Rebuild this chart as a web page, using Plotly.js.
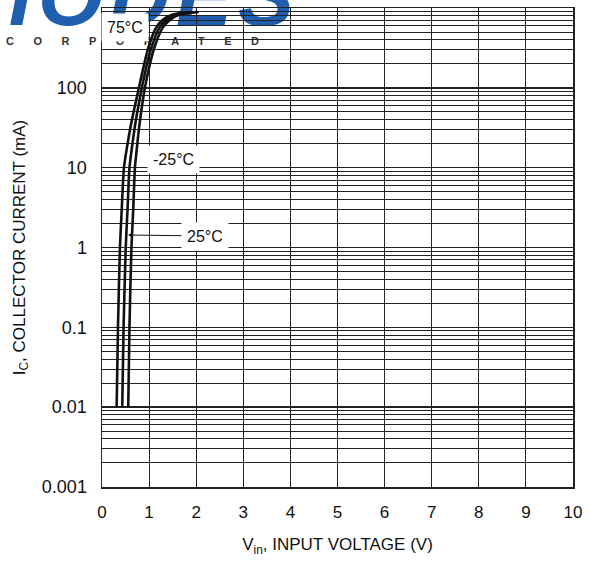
<!DOCTYPE html>
<html>
<head>
<meta charset="utf-8">
<script src="https://cdn.plot.ly/plotly-3.0.1.min.js"></script>
<style>
  html, body { margin:0; padding:0; background:#fff; }
  #wrap { position:relative; width:590px; height:564px; overflow:hidden; }
  #logo { position:absolute; left:-58px; top:-52px; font-family:"Liberation Sans", Arial, sans-serif;
          font-weight:bold; font-style:italic; font-size:84px; color:#1f5fae; letter-spacing:6px; z-index:0; white-space:nowrap; }
  #inc { position:absolute; left:-44px; top:35px; font-family:"Liberation Sans", Arial, sans-serif;
         font-weight:bold; font-size:11px; color:#333; letter-spacing:19.5px; z-index:0; white-space:nowrap; }
  #chart { position:absolute; left:0; top:0; width:590px; height:564px; z-index:1; }
</style>
</head>
<body>
<div id="wrap">
  <div id="logo">DIODES</div>
  <div id="inc">INCORPORATED</div>
  <div id="chart"></div>
</div>
<script>
// Collector current (mA) sample levels shared by the three curves
const currentLevels = [0.01, 0.1, 1, 3, 10, 18, 32, 56, 100, 180, 320, 560, 710, 830, 890];
// Input voltage (V) for each temperature
const vin75  = [0.311, 0.339, 0.381, 0.419, 0.466, 0.530, 0.604, 0.689, 0.784, 0.879, 0.985, 1.144, 1.292, 1.504, 1.907];
const vin25  = [0.430, 0.458, 0.504, 0.542, 0.583, 0.636, 0.695, 0.765, 0.847, 0.938, 1.049, 1.214, 1.373, 1.589, 1.992];
const vinM25 = [0.557, 0.583, 0.625, 0.663, 0.699, 0.742, 0.788, 0.843, 0.911, 1.000, 1.112, 1.282, 1.441, 1.653, 2.055];

const xTicks = [0,1,2,3,4,5,6,7,8,9,10];
const yTickVals = [0.001, 0.01, 0.1, 1, 10, 100, 1000];
const yTickText = ['0.001', '0.01', '0.1', '1', '10', '100', '1,000'];

const minorY = [];
for (let d = -3; d < 3; d++) for (let m = 2; m <= 9; m++) minorY.push(m * Math.pow(10, d));

const lineStyle = {color:'#111', width:2.6, shape:'spline', smoothing:0.6};
const traces = [
  {x: vin75,  y: currentLevels, name:'75°C',  mode:'lines', line: lineStyle},
  {x: vin25,  y: currentLevels, name:'25°C',  mode:'lines', line: lineStyle},
  {x: vinM25, y: currentLevels, name:'-25°C', mode:'lines', line: lineStyle}
];

const font = {family:'"Liberation Sans", Arial, sans-serif', size:17, color:'#111'};
const annFont = {family:'"Liberation Sans", Arial, sans-serif', size:16, color:'#111'};
const layout = {
  width:590, height:564,
  margin:{l:102, r:17, t:8, b:77},
  paper_bgcolor:'rgba(0,0,0,0)', plot_bgcolor:'rgba(0,0,0,0)',
  showlegend:false,
  font: font,
  xaxis:{
    range:[0,10], tickvals:xTicks, ticks:'outside', ticklen:9, tickcolor:'rgba(0,0,0,0)',
    showgrid:true, gridcolor:'#222', gridwidth:1, zeroline:false,
    showline:true, linecolor:'#222', linewidth:1.5, mirror:true,
    tickfont:{size:17, color:'#111'},
    title:{text:'V<sub>in</sub>, INPUT VOLTAGE (V)', font:{size:17, color:'#111'}, standoff:17}
  },
  yaxis:{
    type:'log', range:[-3,3], tickvals:yTickVals, ticktext:yTickText,
    ticks:'outside', ticklen:10, tickcolor:'rgba(0,0,0,0)',
    showgrid:true, gridcolor:'#222', gridwidth:1.5, zeroline:false,
    showline:true, linecolor:'#222', linewidth:1.5, mirror:true,
    tickfont:{size:18, color:'#111'},
    minor:{tickmode:'array', tickvals:minorY, showgrid:true, gridcolor:'#222', gridwidth:1, ticks:''},
    title:{text:'I<sub>C</sub>, COLLECTOR CURRENT (mA)', font:{size:17, color:'#111'}, standoff:12}
  },
  annotations:[
    {xref:'paper', yref:'paper', x:(125-102)/471, y:(487-27)/479, xanchor:'center', yanchor:'middle',
     text:'75°C', showarrow:false, bgcolor:'#fff', borderpad:5, font:annFont},
    {xref:'paper', yref:'paper', x:(173-102)/471, y:(487-159)/479, xanchor:'center', yanchor:'middle',
     text:'-25°C', showarrow:false, bgcolor:'#fff', borderpad:5, font:annFont},
    {xref:'paper', yref:'paper', x:(128-102)/471, y:(487-235)/479, text:'25°C',
     showarrow:true, ax:77, ay:1, arrowhead:2, arrowsize:1, arrowwidth:1, arrowcolor:'#111',
     bgcolor:'#fff', borderpad:5, font:annFont}
  ]
};

Plotly.newPlot('chart', traces, layout, {displayModeBar:false, staticPlot:true});
</script>
</body>
</html>
